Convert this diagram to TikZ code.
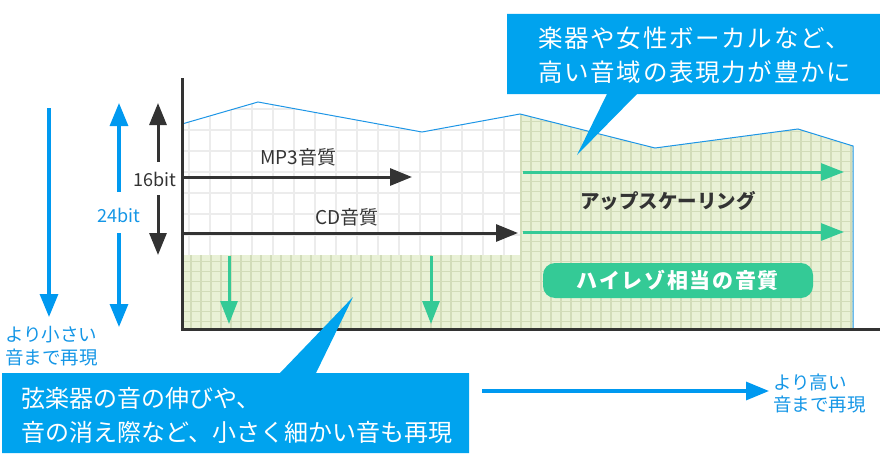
\documentclass[tikz,border=0pt]{standalone}
\usepackage{fontspec}
\setmainfont{Noto Sans CJK JP}
\usetikzlibrary{arrows.meta}
\definecolor{cblue}{RGB}{0,163,238}
\definecolor{ablue}{RGB}{0,153,240}
\definecolor{tblue}{RGB}{20,150,230}
\definecolor{cgreen}{RGB}{52,202,150}
\definecolor{dark}{RGB}{51,51,51}
\definecolor{gfill}{RGB}{233,241,214}
\definecolor{gline}{RGB}{210,220,185}
\definecolor{wline}{RGB}{236,236,236}
\definecolor{curvec}{RGB}{30,150,230}
\begin{document}
\begin{tikzpicture}[x=1pt,y=-1pt,
  darrow/.style={line width=3pt, draw=dark, -{Triangle[length=22pt,width=17pt]}},
  barrow/.style={line width=3.2pt, draw=ablue, -{Triangle[length=23pt,width=18pt]}},
  garrow/.style={line width=3pt, draw=cgreen, -{Triangle[length=23pt,width=17pt]}},
  callout/.style={fill=cblue},
  ctext/.style={inner sep=0pt, anchor=west, text=white, font=\fontsize{24}{28}\selectfont},
  btext/.style={inner sep=0pt, anchor=west, text=tblue, font=\fontsize{18.5}{22}\selectfont},
  dtext/.style={inner sep=0pt, text=dark, font=\fontsize{19}{22}\selectfont},
  gridw/.style={draw=wline, line width=1.5pt},
  gridg/.style={draw=gline, line width=1.3pt}]
\useasboundingbox (0,0) rectangle (880,460);
% green region
\fill[gfill] (182,255) -- (520,255) -- (520,114) -- (655,148) -- (798,129) -- (853,146) -- (853,329) -- (182,329) -- cycle;
\begin{scope}
  \clip (182,255) -- (520,255) -- (520,114) -- (655,148) -- (798,129) -- (853,146) -- (853,329) -- (182,329) -- cycle;
  \foreach \x in {191,201,...,851} \draw[gridg] (\x,100) -- (\x,330);
  \foreach \y in {111.7,121.7,...,321.7} \draw[gridg] (182,\y) -- (853,\y);
\end{scope}
% white grid region
\begin{scope}
  \clip (182,124) -- (258,102) -- (422,132) -- (520,114) -- (520,255) -- (182,255) -- cycle;
  \foreach \x in {189,210,...,504} \draw[gridw] (\x,90) -- (\x,255);
  \foreach \y in {88,109,130,151,172,193,214,235} \draw[gridw] (182,\y) -- (520,\y);
\end{scope}
% curve
\draw[curvec, line width=1pt] (182,124) -- (258,102) -- (422,132) -- (520,114) -- (655,148) -- (798,129) -- (853,146) -- (853,329);
% axes
\draw[dark, line width=3pt] (182,78) -- (182,329.5) -- (880,329.5);

% callouts
\path[callout] (507,14) -- (880,14) -- (880,94) -- (637,94) -- (577,155) -- (607,94) -- (507,94) -- cycle;
\node[ctext, font=\fontsize{24.5}{28}\selectfont\addfontfeature{LetterSpace=7}] (t1) at (538,38) {楽器や女性ボーカルなど、};
\node[ctext, font=\fontsize{24.5}{28}\selectfont\addfontfeature{LetterSpace=7}] (t2) at (538,72) {高い音域の表現力が豊かに};
\path[callout] (2,373) -- (280,373) -- (353,297) -- (316,373) -- (469,373) -- (469,453) -- (2,453) -- cycle;
\node[ctext] (b1) at (21,398) {弦楽器の音の伸びや、};
\node[ctext] (b2) at (21,432) {音の消え際など、小さく細かい音も再現};

% left labels
\node[btext] (ls1) at (5,335) {より小さい};
\node[btext] (ls2) at (5,358) {音まで再現};
\node[btext] (rs1) at (773,382) {より高い};
\node[btext] (rs2) at (773,405) {音まで再現};

% bit arrows
\node[dtext, font=\fontsize{18}{22}\selectfont] (b16) at (155,179) {16bit};
\node[inner sep=0pt, text=tblue, font=\fontsize{18}{22}\selectfont] (b24) at (119,215) {24bit};
\coordinate (d16a) at (158,162); \coordinate (d16t) at (158,103);
\coordinate (d16b) at (158,195); \coordinate (d16u) at (158,255);
\draw[darrow] (d16a) -- (d16t);
\draw[darrow] (d16b) -- (d16u);
\coordinate (b24a) at (119,192); \coordinate (b24t) at (119,103);
\coordinate (b24b) at (119,233); \coordinate (b24u) at (119,327);
\draw[barrow] (b24a) -- (b24t);
\draw[barrow] (b24b) -- (b24u);
\coordinate (ls) at (49,108); \coordinate (le) at (49,317);
\draw[barrow] (ls) -- (le);
\coordinate (hs) at (482,391); \coordinate (he) at (769,391);
\draw[barrow] (hs) -- (he);

% horizontal quality arrows
\coordinate (m0) at (183,177); \coordinate (m1) at (412,177);
\coordinate (c0) at (183,233); \coordinate (c1) at (518,233);
\draw[darrow] (m0) -- (m1);
\draw[darrow] (c0) -- (c1);
\node[dtext] (mp3) at (298,157) {MP3音質};
\node[dtext] (cd) at (347,217) {CD音質};
\coordinate (u0) at (523,172); \coordinate (u1) at (844,172);
\coordinate (v0) at (523,232); \coordinate (v1) at (844,232);
\draw[garrow] (u0) -- (u1);
\draw[garrow] (v0) -- (v1);
\node[dtext, font=\fontsize{19.5}{22}\selectfont\bfseries] (up) at (668,201) {アップスケーリング};

% green down arrows
\coordinate (g1a) at (229,256); \coordinate (g1b) at (229,324);
\coordinate (g2a) at (431,256); \coordinate (g2b) at (431,324);
\draw[garrow] (g1a) -- (g1b);
\draw[garrow] (g2a) -- (g2b);

% hi-res box
\node[fill=cgreen, rounded corners=12pt, minimum width=270pt, minimum height=35pt, inner sep=0pt, text=white,
      font=\fontsize{21}{24}\selectfont\bfseries\addfontfeature{LetterSpace=8}] (hr) at (678,280.5) {ハイレゾ相当の音質};
\end{tikzpicture}
\end{document}
